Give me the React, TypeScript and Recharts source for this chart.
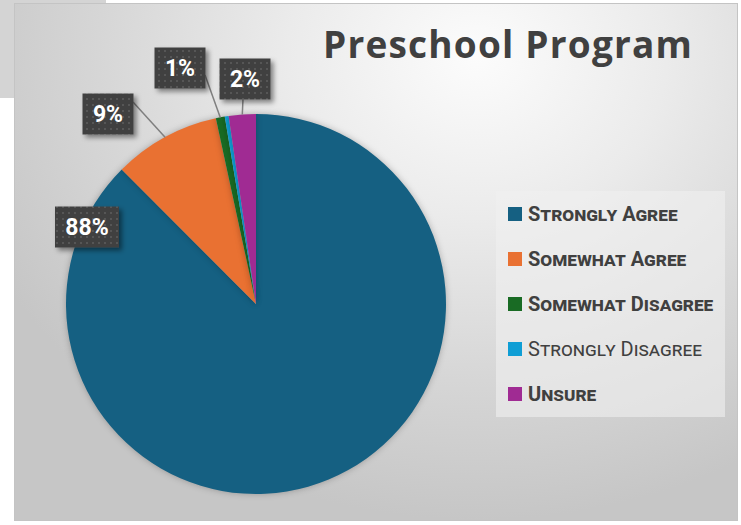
import { PieChart, Pie, Cell, Legend } from "recharts";

// survey answers, share of responses (%)
const categories = [
  "Strongly Agree",
  "Somewhat Agree",
  "Somewhat Disagree",
  "Strongly Disagree",
  "Unsure",
];
const shares = [87.5, 9.1, 0.76, 0.33, 2.3];
const sliceColors = ["#156082", "#E97132", "#196B24", "#0F9ED5", "#A02B93"];
const legendBold = [true, true, true, false, true];

// where Excel put each label box (offset from pie centre) and where its leader starts
const labelLayout = [
  { dx: -169, dy: -77, lx: 0, ly: 0, leader: false },
  { dx: -148, dy: -190, lx: 25, ly: -12, leader: true },
  { dx: -76, dy: -236, lx: 25, ly: 7, leader: true },
  null,
  { dx: -11, dy: -225, lx: -2, ly: 20, leader: true },
];

const chartData = categories.map((name, i) => ({ name, value: shares[i] }));
const total = shares.reduce((a, b) => a + b, 0);

const RAD = Math.PI / 180;
const FONT = "Roboto, 'Noto Sans', sans-serif";

function renderLabel(props: any) {
  const { cx, cy, midAngle, outerRadius, index, value } = props;
  const layout = labelLayout[index];
  const pct = Math.round((value / total) * 100);
  if (!layout || pct === 0) return null;
  const text = `${pct}%`;
  const w = 25 + 13 * text.length;
  const h = 41;
  const bx = cx + layout.dx;
  const by = cy + layout.dy;
  const tx = cx + outerRadius * Math.cos(-midAngle * RAD);
  const ty = cy + outerRadius * Math.sin(-midAngle * RAD);
  return (
    <g key={`lbl-${index}`}>
      {layout.leader && (
        <line
          x1={bx + layout.lx}
          y1={by + layout.ly}
          x2={tx}
          y2={ty}
          stroke="#7f7f7f"
          strokeWidth={1.5}
        />
      )}
      <rect
        x={bx - w / 2}
        y={by - h / 2}
        width={w}
        height={h}
        fill="url(#dotPattern)"
        filter="url(#boxShadow)"
      />
      <text
        x={bx}
        y={by + 8}
        textAnchor="middle"
        fill="#ffffff"
        fontFamily={FONT}
        fontWeight={700}
        fontSize={23}
      >
        {text}
      </text>
    </g>
  );
}

function renderLegend() {
  return (
    <div
      style={{
        width: 229,
        height: 226,
        background: "rgba(240,240,240,0.6)",
        boxSizing: "border-box",
        paddingLeft: 12,
      }}
    >
      {categories.map((name, i) => (
        <div
          key={name}
          style={{ display: "flex", alignItems: "center", height: 45 }}
        >
          <span
            style={{
              display: "inline-block",
              width: 14,
              height: 14,
              background: sliceColors[i],
              marginRight: 6,
            }}
          />
          <span
            style={{
              fontFamily: FONT,
              fontSize: 20,
              fontWeight: legendBold[i] ? 700 : 400,
              fontVariant: "small-caps",
              color: "#404040",
              lineHeight: "20px",
            }}
          >
            {name}
          </span>
        </div>
      ))}
    </div>
  );
}

export default function App() {
  return (
    <div
      style={{
        position: "absolute",
        left: 0,
        top: 0,
        width: 741,
        height: 525,
        background: "#ffffff",
        overflow: "hidden",
      }}
    >
      {/* panel peeking from behind at top-left */}
      <div
        style={{
          position: "absolute",
          left: 0,
          top: 0,
          width: 106,
          height: 98,
          background: "#d4d4d4",
        }}
      />
      {/* chart area */}
      <div
        style={{
          position: "absolute",
          left: 14,
          top: 3,
          width: 724,
          height: 518,
          border: "1px solid #c4c4c4",
          boxSizing: "border-box",
          background:
            "radial-gradient(ellipse 75% 90% at 64% 10%, #fcfcfc 0%, #ebebeb 35%, #d6d6d6 70%, #c6c6c6 100%)",
        }}
      />
      <div
        style={{
          position: "absolute",
          left: 323,
          top: 20,
          fontFamily: "'Open Sans', sans-serif",
          fontWeight: 700,
          fontSize: 37,
          letterSpacing: 1.2,
          lineHeight: "48px",
          color: "#404040",
          whiteSpace: "nowrap",
        }}
      >
        Preschool Program
      </div>
      <style>{`.recharts-pie-sector { filter: drop-shadow(0 0 3px rgba(0,0,0,0.25)); }`}</style>
      <div style={{ position: "absolute", left: 0, top: 0 }}>
        <PieChart
          width={741}
          height={525}
          margin={{ top: 0, right: 0, bottom: 0, left: 0 }}
        >
          <defs>
            <pattern id="dotPattern" width="6" height="6" patternUnits="userSpaceOnUse">
              <rect width="6" height="6" fill="#404040" />
              <rect x="2" y="2" width="2" height="2" fill="#575757" />
            </pattern>
            <filter id="boxShadow" x="-30%" y="-30%" width="160%" height="160%">
              <feDropShadow dx="3" dy="3" stdDeviation="2.5" floodColor="#000" floodOpacity="0.45" />
            </filter>
          </defs>
          <Pie
            data={chartData}
            dataKey="value"
            nameKey="name"
            cx={256}
            cy={304}
            outerRadius={190}
            startAngle={90}
            endAngle={-270}
            stroke="none"
            label={renderLabel}
            labelLine={false}
            isAnimationActive={false}
          >
            {chartData.map((d, i) => (
              <Cell key={d.name} fill={sliceColors[i]} />
            ))}
          </Pie>
          <Legend
            content={renderLegend}
            wrapperStyle={{ left: 496, top: 191, width: 229, height: 226 }}
          />
        </PieChart>
      </div>
    </div>
  );
}
